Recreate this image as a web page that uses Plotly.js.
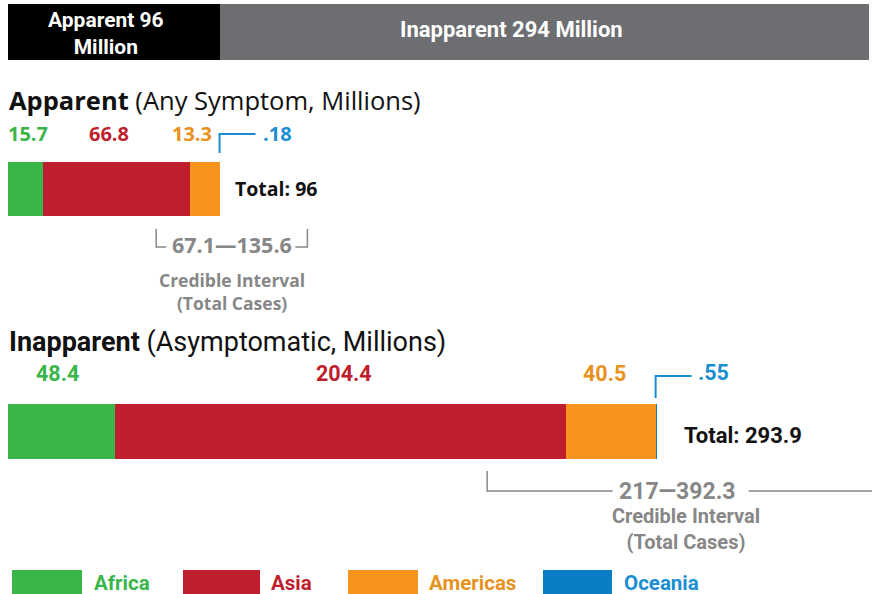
<!DOCTYPE html>
<html>
<head>
<meta charset="utf-8">
<script src="https://cdn.plot.ly/plotly-3.0.1.min.js"></script>
<style>html,body{margin:0;padding:0;background:#fff}#chart{width:872px;height:594px}</style>
</head>
<body>
<div id="chart"></div>
<script>
// ---- data ----
const regions = ['Africa', 'Asia', 'Americas', 'Oceania'];
const apparent = [15.7, 66.8, 13.3, 0.18];
const inapparent = [48.4, 204.4, 40.5, 0.55];
const apparentLabels = ['15.7', '66.8', '13.3', '.18'];
const inapparentLabels = ['48.4', '204.4', '40.5', '.55'];
const totals = [96, 293.9];
const totalLabels = ['Total: 96', 'Total: 293.9'];
const overallParts = ['Apparent 96<br>Million', 'Inapparent 294 Million'];
const overallValues = [96, 294];
const ciApparent = [67.1, 135.6];
const ciInapparent = [217, 392.3];
const ciLabels = ['67.1\u2014135.6', '217\u2014392.3'];

// ---- styles ----
const colors = ['#39b54a', '#be1e2d', '#f7941d', '#0b7dc6'];
const textColors = ['#39b54a', '#be1e2d', '#e8921e', '#1a8ed0'];
const overallColors = ['#000000', '#6d6e71'];
const gray = '#878787';
const FONT = 'Open Sans, sans-serif';
const NARROW = 'Roboto, sans-serif';

const pxPerUnit = 2.208, x0px = 8, W = 872, H = 594;
const xr = [-x0px / pxPerUnit, (W - x0px) / pxPerUnit];
const u = px => px / pxPerUnit;  // pixel length -> data units

const yApp = 189, yInapp = 431.5, yTop = 32;
const traces = [];

// overall bar
overallValues.forEach((v, i) => {
  traces.push({type: 'bar', orientation: 'h', x: [v], y: [yTop], width: [56],
    marker: {color: overallColors[i], line: {width: 0}}, hoverinfo: 'skip', showlegend: false});
});
// regional stacked bars
regions.forEach((r, i) => {
  traces.push({type: 'bar', orientation: 'h', name: r, x: [apparent[i], inapparent[i]],
    y: [yApp, yInapp], width: [54, 55],
    marker: {color: colors[i], line: {width: 0}}, showlegend: false});
});

// oceania brackets
const sumA = apparent.reduce((a, b) => a + b, 0) - apparent[3];
const sumI = inapparent.reduce((a, b) => a + b, 0) - inapparent[3];
traces.push({type: 'scatter', mode: 'lines', x: [sumA, sumA, sumA + u(36)], y: [153, 134, 134],
  line: {color: textColors[3], width: 2}, hoverinfo: 'skip', showlegend: false});
traces.push({type: 'scatter', mode: 'lines', x: [sumI, sumI, sumI + u(36)], y: [398, 376, 376],
  line: {color: textColors[3], width: 2}, hoverinfo: 'skip', showlegend: false});

// credible interval brackets
const ciLine = {color: gray, width: 1.5};
traces.push({type: 'scatter', mode: 'lines', x: [ciApparent[0], ciApparent[0], ciApparent[0] + u(10)], y: [229, 247, 247],
  line: ciLine, hoverinfo: 'skip', showlegend: false});
traces.push({type: 'scatter', mode: 'lines', x: [ciApparent[1] - u(12), ciApparent[1], ciApparent[1]], y: [247, 247, 229],
  line: ciLine, hoverinfo: 'skip', showlegend: false});
const midI = (ciInapparent[0] + ciInapparent[1]) / 2;
traces.push({type: 'scatter', mode: 'lines', x: [ciInapparent[0], ciInapparent[0], midI - u(68)], y: [471, 491, 491],
  line: ciLine, hoverinfo: 'skip', showlegend: false});
traces.push({type: 'scatter', mode: 'lines', x: [midI + u(68), ciInapparent[1], ciInapparent[1]], y: [491, 491, 471],
  line: ciLine, hoverinfo: 'skip', showlegend: false});

const ann = [];
const A = (o) => ann.push(Object.assign({showarrow: false, xref: 'x', yref: 'y'}, o));

// overall bar labels
A({x: overallValues[0] / 2, xshift: -8, y: yTop + 1, text: '<b>' + overallParts[0] + '</b>', font: {family: NARROW, size: 21, color: '#fff'}, align: 'center'});
A({x: overallValues[0] + overallValues[1] / 2, xshift: -33, y: yTop - 3, text: '<b>' + overallParts[1] + '</b>', font: {family: NARROW, size: 22, color: '#fff'}});

// section titles
A({x: 0, xshift: -1, y: 100, xanchor: 'left', text: '<b>Apparent</b> (Any Symptom, Millions)', font: {family: FONT, size: 25.5, color: '#111'}});
A({x: 0, xshift: -1, y: 342, xanchor: 'left', text: '<b>Inapparent</b> (Asymptomatic, Millions)', font: {family: NARROW, size: 27, color: '#111'}});

// segment labels
const shiftsA = [3, -7, -13];
const shiftsI = [-4, 3, -6];
let c = 0;
for (let i = 0; i < 3; i++) {
  A({x: c + apparent[i] / 2, xshift: shiftsA[i], y: 133, text: '<b>' + apparentLabels[i] + '</b>', font: {family: FONT, size: 20, color: textColors[i]}});
  c += apparent[i];
}
A({x: sumA + u(41), y: 133, xanchor: 'left', text: '<b>' + apparentLabels[3] + '</b>', font: {family: FONT, size: 20, color: textColors[3]}});
c = 0;
for (let i = 0; i < 3; i++) {
  A({x: c + inapparent[i] / 2, xshift: shiftsI[i], y: 373, text: '<b>' + inapparentLabels[i] + '</b>', font: {family: NARROW, size: 21.5, color: textColors[i]}});
  c += inapparent[i];
}
A({x: sumI + u(40), y: 372, xanchor: 'left', text: '<b>' + inapparentLabels[3] + '</b>', font: {family: NARROW, size: 21.5, color: textColors[3]}});

// totals
A({x: totals[0], xshift: 13, y: 188, xanchor: 'left', text: '<b>' + totalLabels[0] + '</b>', font: {family: FONT, size: 19.5, color: '#111'}});
A({x: totals[1], xshift: 25, y: 435, xanchor: 'left', text: '<b>' + totalLabels[1] + '</b>', font: {family: NARROW, size: 22, color: '#111'}});

// credible interval labels
const midA = (ciApparent[0] + ciApparent[1]) / 2;
A({x: midA, y: 244, text: '<b>' + ciLabels[0] + '</b>', font: {family: FONT, size: 21.5, color: gray}});
A({x: midA, y: 291.5, text: '<b>Credible Interval<br>(Total Cases)</b>', font: {family: FONT, size: 17.5, color: gray}, align: 'center'});
A({x: midI, xshift: -3, y: 491, text: '<b>' + ciLabels[1] + '</b>', font: {family: NARROW, size: 23, color: gray}});
A({x: midI, xshift: 5, y: 529, text: '<b>Credible Interval<br>(Total Cases)</b>', font: {family: NARROW, size: 20, color: gray}, align: 'center'});

// legend (decoration)
const legSw = [[12, 82], [183, 260], [348, 418], [543, 612]];
const legTx = [92, 269, 427, 622];
const shapes = [];
regions.forEach((r, i) => {
  shapes.push({type: 'rect', xref: 'paper', yref: 'y', x0: legSw[i][0] / W, x1: legSw[i][1] / W, y0: 570, y1: 596,
    fillcolor: colors[i], line: {width: 0}});
  ann.push({showarrow: false, xref: 'paper', yref: 'y', x: legTx[i] / W, y: 583, xanchor: 'left',
    text: '<b>' + r + '</b>', font: {family: NARROW, size: 20.5, color: textColors[i]}});
});

const layout = {
  width: W, height: H, margin: {l: 0, r: 0, t: 0, b: 0},
  paper_bgcolor: '#fff', plot_bgcolor: '#fff',
  barmode: 'stack', bargap: 0, showlegend: false,
  xaxis: {range: xr, visible: false, fixedrange: true},
  yaxis: {range: [H, 0], visible: false, fixedrange: true},
  annotations: ann, shapes: shapes
};
Plotly.newPlot('chart', traces, layout, {displayModeBar: false, staticPlot: true});
</script>
</body>
</html>
